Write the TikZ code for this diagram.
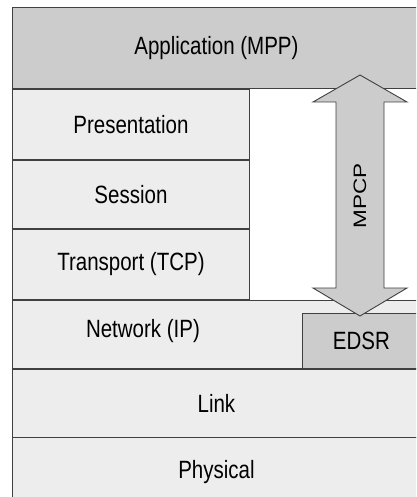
\documentclass[tikz,border=0pt]{standalone}
\usepackage{fontspec}
\setmainfont{Liberation Sans}[FakeStretch=0.82]
\newfontfamily\mpcpfont{Liberation Sans}[FakeStretch=1.25]
\usetikzlibrary{positioning, calc}
\newcommand{\layerfont}{\fontsize{25}{30}\selectfont}
\tikzstyle{layer} = [rectangle, draw=black!75, line width=0.9pt, fill=black!7,
                     inner sep=0pt, font=\layerfont, minimum height=68pt]
\tikzstyle{upper} = [layer, fill=black!20]
\tikzstyle{line} = [draw=black!75, line width=0.9pt, fill=black!20, line join=miter]

\begin{document}
\begin{tikzpicture}[x=1pt, y=-1pt]
        \useasboundingbox (0,0) rectangle (416,497);
        \fill[white] (0,0) rectangle (416,497);
        \clip (0,0) rectangle (416,497);
        \node [upper, minimum width=408pt, minimum height=81pt, anchor=north west] (app) at (12,7) {Application (MPP)};
        \node [layer, minimum width=237pt, minimum height=70pt, below=0pt of app.south west, anchor=north west] (pres) {Presentation};
        \node [layer, minimum width=237pt, below=0pt of pres.south west, anchor=north west] (sess) {Session};
        \node [layer, minimum width=237pt, minimum height=70pt, below=0pt of sess.south west, anchor=north west] (trans) {Transport (TCP)};
        \node [layer, minimum width=408pt, below=0pt of trans.south west, anchor=north west,
               label={[font=\layerfont, xshift=-73.5pt, yshift=3pt]center:Network (IP)}] (net) {};
        \node [upper, minimum width=118pt, minimum height=55pt, anchor=south west] (edsr) at ([xshift=290pt]net.south west) {EDSR};
        \node [layer, minimum width=408pt, below=0pt of net.south west, anchor=north west] (link) {Link};
        \node [layer, minimum width=408pt, below=0pt of link.south west, anchor=north west] (phys) {Physical};

        % double arrow between application and EDSR
        \coordinate (top) at (360,75);
        \coordinate (bot) at (360,316);
        \path [line] (top) -- ([shift={(47,27)}]top) -- ([shift={(24,27)}]top)
              -- ([shift={(24,-28)}]bot) -- ([shift={(47,-28)}]bot) -- (bot)
              -- ([shift={(-47,-28)}]bot) -- ([shift={(-24,-28)}]bot)
              -- ([shift={(-24,27)}]top) -- ([shift={(-47,27)}]top) -- cycle;
        \node [rotate=90, inner sep=0pt, font=\mpcpfont\fontsize{18}{22}\selectfont] (mpcp) at ($(top)!0.5!(bot)$) {MPCP};
\end{tikzpicture}
\end{document}
